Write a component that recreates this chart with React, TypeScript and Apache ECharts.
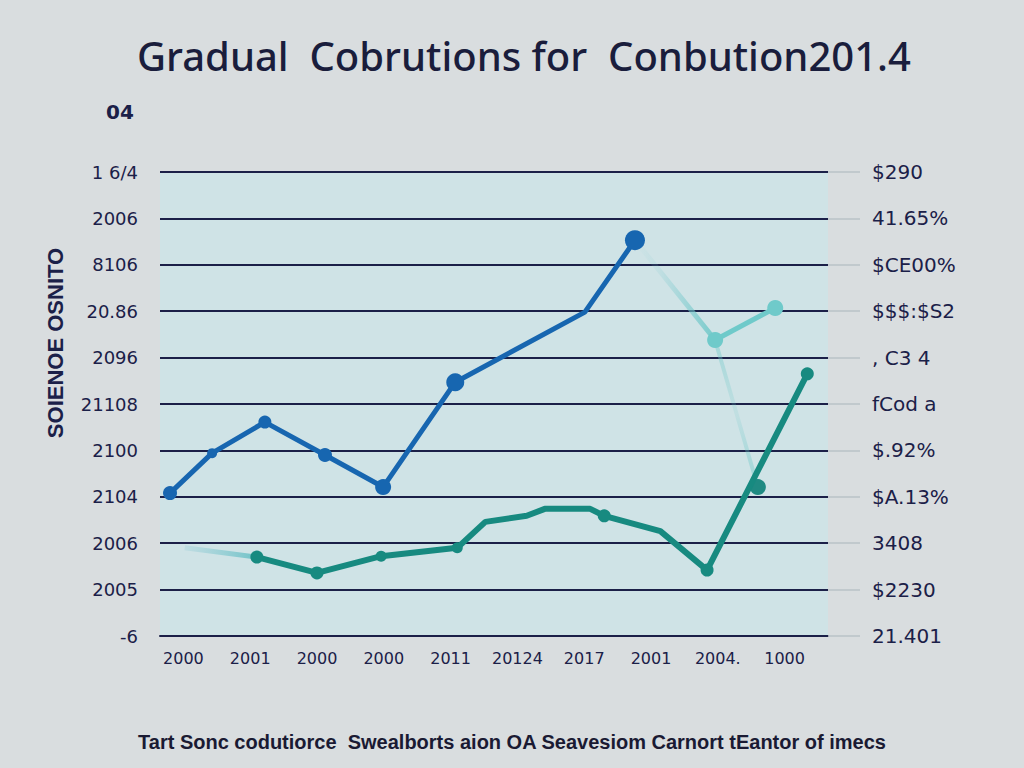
import React, { useEffect, useRef } from "react";
import * as echarts from "echarts";

const titleText = "Gradual  Cobrutions for  Conbution201.4";
const footText = "Tart Sonc codutiorce  Swealborts aion OA Seavesiom Carnort tEantor of imecs";
const yAxisName = "SOIENOE OSNITO";
const topLabel = "04";

const xLabels = ["2000", "2001", "2000", "2000", "2011", "20124", "2017", "2001", "2004.", "1000"];
const leftLabels = ["-6", "2005", "2006", "2104", "2100", "21108", "2096", "20.86", "8106", "2006", "1 6/4"];
const rightLabels = ["21.401", "$2230", "3408", "$A.13%", "$.92%", "fCod a", ", C3 4", "$$$:$S2", "$CE00%", "41.65%", "$290"];

const blueX = [0.15, 0.78, 1.57, 2.47, 3.34, 4.42, 6.36, 7.11];
const blueY = [3.08, 3.94, 4.61, 3.9, 3.21, 5.47, 6.98, 8.53];
const blueSizes = [14, 10, 13, 14, 16, 18, 0, 20];

const tealX = [1.45, 2.35, 3.31, 4.45, 4.87, 5.49, 5.76, 6.44, 6.65, 7.49, 8.19, 9.69];
const tealY = [1.7, 1.36, 1.72, 1.9, 2.46, 2.59, 2.74, 2.74, 2.59, 2.26, 1.42, 5.65];
const tealSizes = [13, 13, 11, 11, 0, 0, 0, 0, 13, 0, 13, 13];

const tealLeadX = [0.37, 1.45];
const tealLeadY = [1.9, 1.7];

const lightX = [8.31, 9.21];
const lightY = [6.38, 7.07];

const fadeX = [7.11, 8.31];
const fadeY = [8.53, 6.38];

const dropX = [8.31, 8.95];
const dropY = [6.38, 3.21];

const pts = (xs: number[], ys: number[]) => xs.map((x, i) => [x, ys[i]]);

export default function App() {
  const ref = useRef<HTMLDivElement>(null);
  useEffect(() => {
    document.body.style.margin = "0";
    const chart = echarts.init(ref.current!, undefined, { renderer: "svg" });
    const navy = "#1b2048";
    chart.setOption({
      animation: false,
      backgroundColor: "#d9dddf",
      title: [
        {
          text: titleText,
          left: 132,
          top: 30,
          textStyle: { fontFamily: "Noto Sans", fontSize: 40, fontWeight: 500, color: "#1a1d3c" },
        },
        {
          text: footText,
          left: "center",
          top: 727,
          textStyle: { fontFamily: "Liberation Sans", fontSize: 20, fontWeight: "bold", color: "#1a1a33" },
        },
      ],
      graphic: [
        {
          type: "text",
          left: 106,
          top: 102,
          style: { text: topLabel, fontFamily: "DejaVu Sans", fontSize: 20, fontWeight: "bold", fill: navy },
        },
        {
          type: "text",
          x: 55,
          y: 343,
          rotation: Math.PI / 2,
          style: {
            text: yAxisName,
            fontFamily: "Liberation Sans",
            fontSize: 22,
            fontWeight: "bold",
            fill: navy,
            align: "center",
            verticalAlign: "middle",
          },
        },
      ],
      grid: {
        left: 160,
        right: 196,
        top: 172,
        bottom: 132,
        show: true,
        backgroundColor: "#cfe3e6",
        borderWidth: 0,
      },
      xAxis: [
        {
          type: "category",
          data: xLabels,
          boundaryGap: true,
          axisLine: { show: true, lineStyle: { color: navy, width: 2 } },
          axisTick: { show: false },
          axisLabel: {
            color: navy,
            fontFamily: "DejaVu Sans",
            fontSize: 16,
            margin: 14,
            padding: [0, 20, 0, 0],
          },
        },
        {
          type: "value",
          min: 0,
          max: 10,
          show: false,
        },
      ],
      yAxis: [
        {
          type: "value",
          min: 0,
          max: 10,
          interval: 1,
          axisLine: { show: false },
          axisTick: { show: false },
          splitLine: { show: true, lineStyle: { color: navy, width: 2 } },
          axisLabel: {
            color: navy,
            fontFamily: "DejaVu Sans",
            fontSize: 18,
            margin: 22,
            formatter: (v: number) => leftLabels[Math.round(v)] ?? "",
          },
        },
        {
          type: "value",
          min: 0,
          max: 10,
          interval: 1,
          position: "right",
          axisLine: { show: false },
          axisTick: { show: true, inside: false, length: 32, lineStyle: { color: "#b9c2c7", width: 1.5 } },
          splitLine: { show: false },
          axisLabel: {
            color: navy,
            fontFamily: "DejaVu Sans",
            fontSize: 20,
            margin: 44,
            padding: [8, 0, 0, 0],
            formatter: (v: number) => rightLabels[Math.round(v)] ?? "",
          },
        },
      ],
      series: [
        {
          type: "line",
          xAxisIndex: 1,
          data: pts(fadeX, fadeY),
          showSymbol: false,
          lineStyle: {
            width: 5,
            color: new echarts.graphic.LinearGradient(0, 0, 1, 0, [
              { offset: 0, color: "rgba(120,200,205,0)" },
              { offset: 0.3, color: "rgba(120,200,205,0.15)" },
              { offset: 1, color: "rgba(110,200,200,0.9)" },
            ]),
          },
          z: 1,
        },
        {
          type: "line",
          xAxisIndex: 1,
          data: pts(dropX, dropY),
          symbol: "circle",
          symbolSize: (_v: any, p: any) => (p.dataIndex === 1 ? 16 : 0),
          itemStyle: { color: "#1f8a82" },
          lineStyle: {
            width: 4,
            color: new echarts.graphic.LinearGradient(0, 0, 0, 1, [
              { offset: 0, color: "rgba(110,200,200,0.45)" },
              { offset: 0.5, color: "rgba(110,200,200,0.15)" },
              { offset: 1, color: "rgba(110,200,200,0.5)" },
            ]),
          },
          z: 1,
        },
        {
          type: "line",
          xAxisIndex: 1,
          data: pts(tealLeadX, tealLeadY),
          showSymbol: false,
          lineStyle: {
            width: 5,
            color: new echarts.graphic.LinearGradient(0, 0, 1, 0, [
              { offset: 0, color: "rgba(150,205,215,0.3)" },
              { offset: 1, color: "rgba(100,190,195,0.9)" },
            ]),
          },
          z: 1,
        },
        {
          type: "line",
          xAxisIndex: 1,
          data: pts(lightX, lightY),
          symbol: "circle",
          symbolSize: 16,
          itemStyle: { color: "#6fcaca" },
          lineStyle: { width: 5, color: "#6fcaca" },
          z: 2,
        },
        {
          type: "line",
          xAxisIndex: 1,
          data: pts(tealX, tealY),
          symbol: "circle",
          symbolSize: (_v: any, p: any) => tealSizes[p.dataIndex],
          itemStyle: { color: "#178a80" },
          lineStyle: { width: 6, color: "#178a80" },
          z: 3,
        },
        {
          type: "line",
          xAxisIndex: 1,
          data: pts(blueX, blueY),
          symbol: "circle",
          symbolSize: (_v: any, p: any) => blueSizes[p.dataIndex],
          itemStyle: { color: "#1766b0" },
          lineStyle: { width: 5, color: "#1766b0" },
          z: 4,
        },
      ],
    });
    return () => chart.dispose();
  }, []);
  return <div ref={ref} style={{ width: 1024, height: 768, background: "#d9dddf" }} />;
}
